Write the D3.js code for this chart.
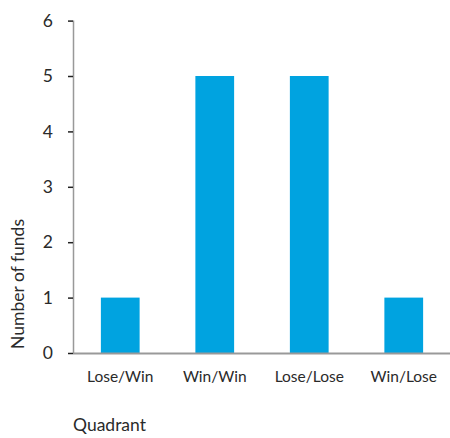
<!DOCTYPE html>
<html><head><meta charset="utf-8">
<script src="https://cdn.jsdelivr.net/npm/d3@7"></script>
<style>body{margin:0;background:#fff}svg{display:block}text{font-family:Lato,"Open Sans",sans-serif;fill:#2a2a2a}</style>
</head><body><svg id="c" width="450" height="438"></svg>
<script>
const categories = ["Lose/Win", "Win/Win", "Lose/Lose", "Win/Lose"];
const values = [1, 5, 5, 1];
const yTicks = [0, 1, 2, 3, 4, 5, 6];
const xTitle = "Quadrant";
const yTitle = "Number of funds";

const svg = d3.select("#c");
const x0 = 73, x1 = 451, yTop = 20.6, yBot = 353;
const x = d3.scaleBand().domain(categories).range([x0, x1]).paddingInner(0.59).paddingOuter(0.295);
const y = d3.scaleLinear().domain([0, 6]).range([yBot, yTop]);

svg.selectAll("rect.bar").data(values).join("rect")
  .attr("class", "bar")
  .attr("x", (d, i) => x(categories[i]))
  .attr("width", x.bandwidth())
  .attr("y", d => y(d))
  .attr("height", d => y(0) - y(d))
  .attr("fill", "#00a3e0");

// y axis
const ya = svg.append("g").attr("transform", `translate(${x0},0)`)
  .call(d3.axisLeft(y).tickValues(yTicks).tickSize(5).tickPadding(15).tickFormat(d3.format("d")));
ya.select(".domain").attr("stroke", "#999").attr("stroke-width", 1.5).attr("d", `M0.5,${yTop}V${yBot}`);
ya.selectAll(".tick line").attr("stroke", "#222").attr("stroke-width", 1.5);
ya.selectAll(".tick text").attr("font-size", 17.5).style("fill", "#2a2a2a");

// x axis
const xa = svg.append("g").attr("transform", `translate(0,${yBot})`)
  .call(d3.axisBottom(x).tickSize(0).tickPadding(18));
xa.select(".domain").attr("stroke", "#999").attr("stroke-width", 2).attr("d", `M${x0},0.5H${x1}`);
xa.selectAll(".tick text").attr("font-size", 15.5).style("fill", "#2a2a2a");

svg.append("text").attr("x", x0).attr("y", 431).attr("font-size", 17.5).text(xTitle);
svg.append("text").attr("transform", `translate(24,284) rotate(-90)`).attr("text-anchor", "middle")
  .attr("font-size", 17.5).text(yTitle);
</script></body></html>
